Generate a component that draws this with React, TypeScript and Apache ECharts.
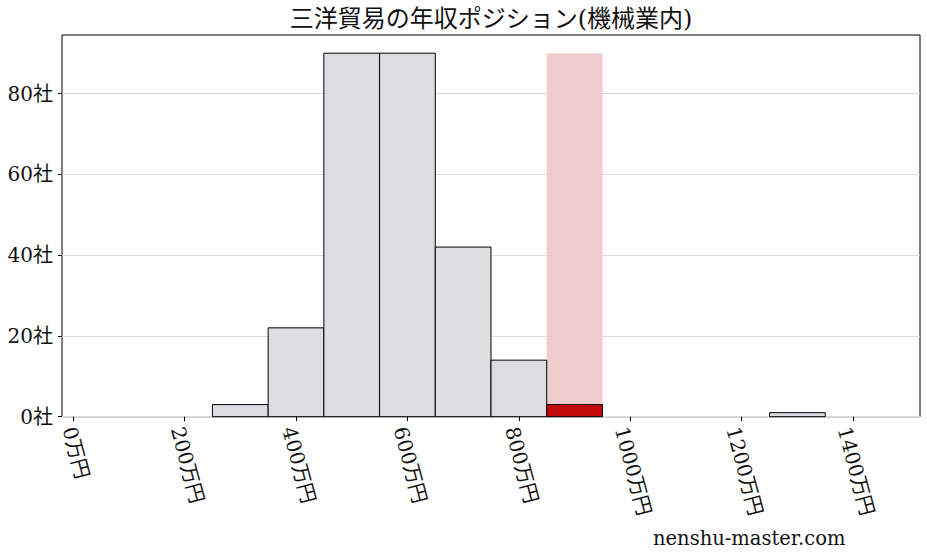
import { useEffect, useRef } from 'react';
import * as echarts from 'echarts';

// histogram of annual income (万円) across companies in the machinery sector
const binEdges = [50, 150, 250, 350, 450, 550, 650, 750, 850, 950, 1050, 1150, 1250, 1350, 1450];
const counts = [0, 0, 3, 22, 90, 90, 42, 14, 3, 0, 0, 0, 1, 0];
const highlightBin = 8; // 三洋貿易 falls in 850-950

const xTicks = [0, 200, 400, 600, 800, 1000, 1200, 1400];
const yTicks = [0, 20, 40, 60, 80];

const TITLE = '三洋貿易の年収ポジション(機械業内)';
const WATERMARK = 'nenshu-master.com';

const W = 927;
const H = 557;
const FONT = "'DejaVu Serif', 'Noto Sans CJK JP', serif";

export default function App() {
  const chartRef = useRef<HTMLDivElement>(null);

  useEffect(() => {
    if (!chartRef.current) return;
    const chart = echarts.init(chartRef.current, undefined, { renderer: 'svg' });

    const grid = { left: 62, right: 7, top: 35, bottom: 140.3 };
    const plotW = W - grid.left - grid.right;
    const plotH = H - grid.top - grid.bottom;
    const span = binEdges[binEdges.length - 1] - binEdges[0];
    const xMin = binEdges[0] - span * 0.05;
    const xMax = binEdges[binEdges.length - 1] + span * 0.05;
    const maxCount = Math.max(...counts);
    const yMax = maxCount * 1.05;
    const px = (v: number) => grid.left + ((v - xMin) / (xMax - xMin)) * plotW;
    const yTop = yTicks[yTicks.length - 1];

    // rotated tick labels, centred under their tick like matplotlib does
    const a = (75 * Math.PI) / 180;
    const cs = Math.cos(a);
    const sn = Math.sin(a);
    const rich: Record<string, any> = {};
    xTicks.forEach(v => {
      const digits = String(v).length;
      const L = 12.72 * digits + 40;
      const X = 3 - (cs * L) / 2;
      const Y = 10.6;
      const P = cs * X + sn * Y;
      const T = 2 * (-sn * X + cs * Y);
      rich['t' + v] = {
        fontSize: 20,
        fontFamily: FONT,
        color: '#111',
        padding: [Math.max(0, T), 0, 0, Math.max(0, P)]
      };
    });

    const barData = counts.map((c, i) => [binEdges[i], binEdges[i + 1], c, i === highlightBin ? 1 : 0]);
    const bandData = [[binEdges[highlightBin], binEdges[highlightBin + 1], maxCount]];

    const rectItem = (api: any, fill: string, stroke: string | null) => {
      const c = api.value(2);
      if (c <= 0) return null;
      const p0 = api.coord([api.value(0), c]);
      const p1 = api.coord([api.value(1), 0]);
      return {
        type: 'rect',
        shape: { x: p0[0], y: p0[1], width: p1[0] - p0[0], height: p1[1] - p0[1] },
        style: stroke ? { fill, stroke, lineWidth: 1 } : { fill }
      };
    };

    chart.setOption({
      animation: false,
      grid: [
        { ...grid, show: true, borderColor: '#000', borderWidth: 1, backgroundColor: 'transparent' },
        { left: px(0), right: W - px(1400), top: grid.top, bottom: grid.bottom },
        {
          left: grid.left,
          right: grid.right,
          top: grid.top + ((yMax - yTop) / yMax) * plotH,
          bottom: grid.bottom
        }
      ],
      xAxis: [
        { type: 'value', gridIndex: 0, min: xMin, max: xMax, show: false },
        {
          type: 'value',
          gridIndex: 1,
          min: xTicks[0],
          max: xTicks[xTicks.length - 1],
          interval: 200,
          axisLine: { show: false },
          axisTick: { show: true, length: 4.5, lineStyle: { color: '#000', width: 1 } },
          splitLine: { show: false },
          axisLabel: {
            rotate: -75,
            margin: 0,
            align: 'left',
            verticalAlign: 'middle',
            fontSize: 20,
            fontFamily: FONT,
            color: '#111',
            formatter: (v: number) => `{t${v}|${v}万円}`,
            rich
          }
        },
        { type: 'value', gridIndex: 2, min: 0, max: 1, show: false }
      ],
      yAxis: [
        { type: 'value', gridIndex: 0, min: 0, max: yMax, show: false },
        { type: 'value', gridIndex: 1, min: 0, max: 1, show: false },
        {
          type: 'value',
          gridIndex: 2,
          min: yTicks[0],
          max: yTop,
          interval: 20,
          axisLine: { show: false },
          axisTick: { show: true, length: 4, lineStyle: { color: '#000', width: 1 } },
          splitLine: { show: true, lineStyle: { color: '#dcdcdc', width: 1 } },
          axisLabel: {
            margin: 9,
            fontSize: 20,
            fontFamily: FONT,
            color: '#111',
            formatter: (v: number) => `${v}社`
          }
        }
      ],
      series: [
        {
          type: 'custom',
          xAxisIndex: 0,
          yAxisIndex: 0,
          z: 1,
          data: bandData,
          encode: { x: [0, 1], y: 2 },
          renderItem: (_p: any, api: any) => rectItem(api, '#f1cccc', null)
        },
        {
          type: 'custom',
          xAxisIndex: 0,
          yAxisIndex: 0,
          z: 3,
          data: barData,
          encode: { x: [0, 1], y: 2 },
          renderItem: (_p: any, api: any) =>
            rectItem(api, api.value(3) ? '#c10b0b' : '#dcdde0', '#000')
        }
      ],
      graphic: [
        {
          type: 'text',
          x: (grid.left + W - grid.right) / 2,
          y: 19,
          style: {
            text: TITLE,
            align: 'center',
            verticalAlign: 'middle',
            fontSize: 24,
            fontFamily: FONT,
            fill: '#111'
          }
        },
        {
          type: 'text',
          x: 653,
          y: 538,
          style: {
            text: WATERMARK,
            align: 'left',
            verticalAlign: 'middle',
            fontSize: 19.5,
            fontFamily: FONT,
            fill: '#111'
          }
        }
      ]
    });

    return () => chart.dispose();
  }, []);

  return (
    <div
      ref={chartRef}
      style={{ position: 'absolute', left: 0, top: 0, width: W, height: H, background: '#fff' }}
    />
  );
}
